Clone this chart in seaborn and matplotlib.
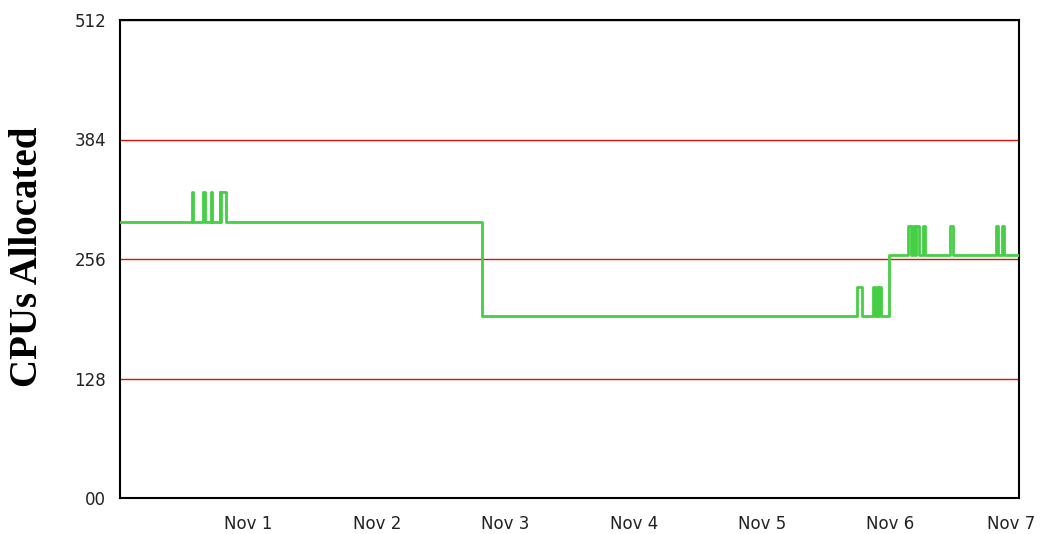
import matplotlib
matplotlib.use("Agg")
import matplotlib.pyplot as plt
import matplotlib.transforms as mtransforms
import seaborn as sns
import pandas as pd

# Allocation timeline: days since Oct 31 00:00 and CPUs allocated from that moment on
days = [0.000, 0.557, 0.569, 0.646, 0.658, 0.705, 0.717, 0.775, 0.781, 0.788, 0.822,
        2.817,
        5.740, 5.779, 5.864, 5.880, 5.892, 5.903, 5.911, 5.927,
        5.984,
        6.137, 6.160, 6.176, 6.192, 6.199, 6.223, 6.254, 6.269, 6.464, 6.488,
        6.822, 6.834, 6.869, 6.885, 7.000]
cpus = [296, 328, 296, 328, 296, 328, 296, 328, 296, 328, 296,
        195,
        226, 195, 226, 195, 226, 195, 226, 195,
        260,
        291, 260, 291, 260, 291, 260, 291, 260, 291, 260,
        291, 260, 291, 260, 260]

day_ticks = [1, 2, 3, 4, 5, 6, 7]
day_labels = ["Nov 1", "Nov 2", "Nov 3", "Nov 4", "Nov 5", "Nov 6", "Nov 7"]
cpu_ticks = [0, 128, 256, 384, 512]
cpu_labels = ["00", "128", "256", "384", "512"]

sns.set_style("white")
plt.rcParams["font.family"] = ["DejaVu Sans"]

df = pd.DataFrame({"day": days, "cpus": cpus})

fig = plt.figure(figsize=(10.4, 5.34), dpi=100)
ax = fig.add_axes([120 / 1040, 1 - 498 / 534, 899 / 1040, 478 / 534])

sns.lineplot(data=df, x="day", y="cpus", ax=ax, estimator=None, sort=False,
             drawstyle="steps-post", color="#45cf45", linewidth=2.0, zorder=3)

ax.set_xlim(0, 7)
ax.set_ylim(0, 512)
ax.set_xticks(day_ticks)
ax.set_xticklabels(day_labels)
ax.set_yticks(cpu_ticks)
ax.set_yticklabels(cpu_labels)
ax.set_xlabel("")
ax.set_ylabel("")

ax.grid(axis="y", color="#e01010", linewidth=1.0)
ax.grid(axis="x", visible=False)
ax.set_axisbelow(True)

for s in ax.spines.values():
    s.set_visible(True)
    s.set_color("black")
    s.set_linewidth(1.5)

ax.tick_params(axis="both", direction="in", length=7, width=1.2, color="black",
               labelsize=12, labelcolor="#222222")
ax.tick_params(axis="x", pad=12)
ax.tick_params(axis="y", pad=10)

# keep the last date label inside the canvas
last = ax.get_xticklabels()[-1]
last.set_transform(last.get_transform() +
                   mtransforms.ScaledTranslation(-8 / 100, 0, fig.dpi_scale_trans))

fig.text(0.026, 0.52, "CPUs Allocated", rotation=90, ha="center", va="center",
         fontsize=28, fontweight="bold", family=["Liberation Serif", "DejaVu Serif"],
         color="black")

fig.savefig("out.png", dpi=100, facecolor="white")
